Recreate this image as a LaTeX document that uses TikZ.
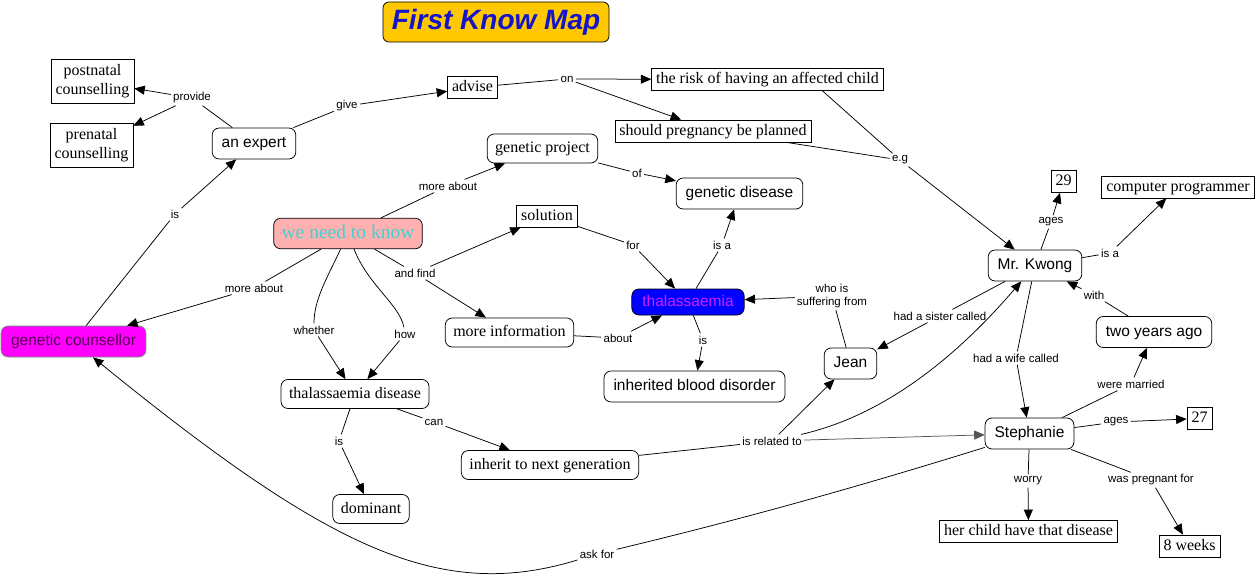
\documentclass[tikz,border=0pt]{standalone}
\usepackage{fontspec}
\setmainfont{Liberation Serif}
\setsansfont{Liberation Sans}
\definecolor{MAPgold}{HTML}{FFC800}
\definecolor{MAPblue}{HTML}{1414C8}
\definecolor{MAPpink}{HTML}{FFB0B0}
\definecolor{MAPcyan}{HTML}{40D0D0}
\definecolor{MAPmagenta}{HTML}{FF00FF}
\definecolor{MAPplum}{HTML}{500050}
\definecolor{MAPgreen}{HTML}{6E9A6E}
\definecolor{MAPviolet}{HTML}{CC22FF}
\definecolor{MAPgray}{HTML}{555555}
\usetikzlibrary{arrows.meta}

\begin{document}
\begin{tikzpicture}[x=1pt, y=-1pt, line width=0.75pt,
   sharpbox/.style={draw, fill=white, inner xsep=4.5pt, inner ysep=3.5pt,
      text height=11.5pt, text depth=3.5pt, font=\fontsize{16}{19}\selectfont},
   serifround/.style={draw, fill=white, rounded corners=7pt, inner xsep=8pt,
      inner ysep=7pt, text height=11.5pt, text depth=3.5pt,
      font=\fontsize{16}{19}\selectfont},
   sansround/.style={draw, fill=white, rounded corners=7pt, inner xsep=9.5pt,
      inner ysep=8pt, text height=11.5pt, text depth=3.5pt,
      font=\sffamily\fontsize{15.5}{18}\selectfont},
   linktext/.style={inner sep=2pt, font=\sffamily\fontsize{11.5}{13}\selectfont},
   arr/.style={-{Triangle[length=10.5pt,width=9pt]}}]
   \useasboundingbox (0,0) rectangle (1257,578);
   % Title
   \node[draw, fill=MAPgold, rounded corners=6pt, minimum width=226pt,
      minimum height=40pt, text=MAPblue,
      font=\sffamily\bfseries\itshape\fontsize{28}{30}\selectfont]
      (title) at (496,22) {First Know Map};
   % Concepts: counsellor side
   \node[sharpbox, align=center, text height=, text depth=, inner ysep=5pt]
      (postnatal) at (92.5,81.5) {postnatal\\counselling};
   \node[sharpbox, align=center, text height=, text depth=, inner ysep=5pt]
      (prenatal) at (91.5,145.5) {prenatal\\counselling};
   \node[sansround] (expert) at (254,143.5) {an expert};
   \node[sharpbox] (advise) at (472.5,87.5) {advise};
   \node[sharpbox] (risk) at (767.5,79.5) {the risk of having an affected child};
   \node[sharpbox] (planned) at (713,131) {should pregnancy be planned};
   \node[sansround, fill=MAPmagenta, draw=MAPgreen, text=MAPplum, inner xsep=10pt]
      (counsellor) at (73.5,341.5) {genetic counsellor};
   % Concepts: disease
   \node[serifround, fill=MAPpink, text=MAPcyan, inner xsep=8pt,
      text height=14pt, text depth=4.5pt, inner ysep=6pt,
      font=\fontsize{19.5}{22}\selectfont]
      (know) at (348,233.5) {we need to know};
   \node[serifround] (project) at (542.5,148.5) {genetic project};
   \node[sansround] (gdisease) at (739.5,193.5) {genetic disease};
   \node[sharpbox] (solution) at (547,216) {solution};
   \node[sansround, fill=blue, text=MAPviolet, inner ysep=5.5pt, inner xsep=10.5pt]
      (thal) at (688,302) {thalassaemia};
   \node[serifround] (moreinfo) at (509.5,332.5) {more information};
   \node[sansround] (blood) at (694.5,386.5) {inherited blood disorder};
   \node[serifround] (tdisease) at (355,394) {thalassaemia disease};
   \node[serifround] (inherit) at (550,465) {inherit to next generation};
   \node[serifround] (dominant) at (371,509) {dominant};
   % Concepts: the family
   \node[sansround] (jean) at (850.5,363.5) {Jean};
   \node[sansround] (kwong) at (1035,265.5) {Mr. Kwong};
   \node[sharpbox] (age29) at (1063.5,181.5) {29};
   \node[sharpbox] (programmer) at (1178,187) {computer programmer};
   \node[sansround] (twoyears) at (1154,332) {two years ago};
   \node[sansround] (stephanie) at (1029.5,433.5) {Stephanie};
   \node[sharpbox] (age27) at (1199.5,418.5) {27};
   \node[sharpbox] (childdis) at (1028.5,531.5) {her child have that disease};
   \node[sharpbox] (weeks) at (1189.5,546) {8 weeks};
   % Linking phrases
   \node[linktext] (provide) at (192,98) {provide};
   \node[linktext] (give) at (347,106) {give};
   \node[linktext] (on) at (567,79) {on};
   \node[linktext] (eg) at (900,160) {e.g};
   \node[linktext] (isexpert) at (175,214) {is};
   \node[linktext] (aboutcoun) at (254,288) {more about};
   \node[linktext] (aboutproj) at (448,186) {more about};
   \node[linktext] (ofdis) at (637,173) {of};
   \node[linktext] (andfind) at (415,273) {and find};
   \node[linktext] (forthal) at (633,245) {for};
   \node[linktext] (isagen) at (722,245) {is a};
   \node[linktext] (whether) at (314,330) {whether};
   \node[linktext] (how) at (405,334) {how};
   \node[linktext] (aboutthal) at (618,338) {about};
   \node[linktext] (isblood) at (703,340) {is};
   \node[linktext, align=center] (suffering) at (832,296) {who is\\suffering from};
   \node[linktext] (sister) at (940,316) {had a sister called};
   \node[linktext] (wife) at (1016,358) {had a wife called};
   \node[linktext] (ages29) at (1051,222) {ages};
   \node[linktext] (isaprog) at (1110,253) {is a};
   \node[linktext] (with) at (1094,295) {with};
   \node[linktext] (married) at (1131,384) {were married};
   \node[linktext] (can) at (434,422) {can};
   \node[linktext] (isdom) at (339,441) {is};
   \node[linktext] (related) at (772,441) {is related to};
   \node[linktext] (ages27) at (1116,422) {ages};
   \node[linktext] (worry) at (1028,481) {worry};
   \node[linktext] (pregnant) at (1151,480) {was pregnant for};
   \node[linktext] (askfor) at (597,554) {ask for};
   % Counsellor and expert
   \draw (counsellor) -- (isexpert);
   \draw[arr] (isexpert) -- (expert);
   \draw (expert) -- (provide);
   \draw[arr] (provide) -- (postnatal);
   \draw[arr] (provide) -- (prenatal);
   \draw (expert) -- (give);
   \draw[arr] (give) -- (advise);
   \draw (advise) -- (on);
   \draw[arr] (on) -- (risk);
   \draw[arr] (on) -- (planned);
   \draw ([xshift=55pt]risk.south) -- (eg);
   \draw (planned) -- (eg);
   \draw[arr] (eg) -- (kwong);
   % What we need to know
   \draw (know) -- (aboutcoun);
   \draw[arr] (aboutcoun) -- (counsellor);
   \draw (know) -- (aboutproj);
   \draw[arr] (aboutproj) -- (project);
   \draw (project) -- (ofdis);
   \draw[arr] (ofdis) -- (gdisease);
   \draw (know) -- (andfind);
   \draw[arr] (andfind) -- (solution);
   \draw[arr] (andfind) -- (moreinfo);
   \draw (solution) -- (forthal);
   \draw[arr] (forthal) -- (thal);
   \draw (thal) -- (isagen);
   \draw[arr] (isagen) -- (gdisease);
   \draw (moreinfo) -- (aboutthal);
   \draw[arr] (aboutthal) -- (thal);
   \draw (thal) -- (isblood);
   \draw[arr] (isblood) -- (blood);
   \draw (know) .. controls (326,280) and (314,300) .. (whether);
   \draw[arr] (whether) -- (tdisease);
   \draw (know) .. controls (368,285) and (400,305) .. (how);
   \draw[arr] (how) -- (tdisease);
   \draw (tdisease) -- (isdom);
   \draw[arr] (isdom) -- (dominant);
   \draw (tdisease) -- (can);
   \draw[arr] (can) -- (inherit);
   % Family
   \draw (inherit) -- (related);
   \draw[arr] (related) -- (jean);
   \draw[arr] (related) .. controls (900,412) and (975,335) .. (kwong);
   \draw[arr, MAPgray] (related) -- (stephanie);
   \draw (jean) -- (suffering);
   \draw[arr] (suffering) -- (thal);
   \draw (kwong) -- (sister);
   \draw[arr] (sister) -- (jean);
   \draw (kwong) -- (wife);
   \draw[arr] (wife) -- (stephanie);
   \draw (kwong) -- (ages29);
   \draw[arr] (ages29) -- (age29);
   \draw (kwong) -- (isaprog);
   \draw[arr] (isaprog) -- (programmer);
   \draw (twoyears) -- (with);
   \draw[arr] (with) -- (kwong);
   \draw (stephanie) -- (married);
   \draw[arr] (married) -- (twoyears);
   \draw (stephanie) -- (ages27);
   \draw[arr] (ages27) -- (age27);
   \draw (stephanie) -- (worry);
   \draw[arr] (worry) -- (childdis);
   \draw (stephanie) -- (pregnant);
   \draw[arr] (pregnant) -- (weeks);
   % Asking the counsellor
   \draw (stephanie) .. controls (880,480) and (760,515) .. (askfor);
   \draw[arr] (askfor) .. controls (440,602) and (330,550) .. (counsellor);
\end{tikzpicture}
\end{document}
